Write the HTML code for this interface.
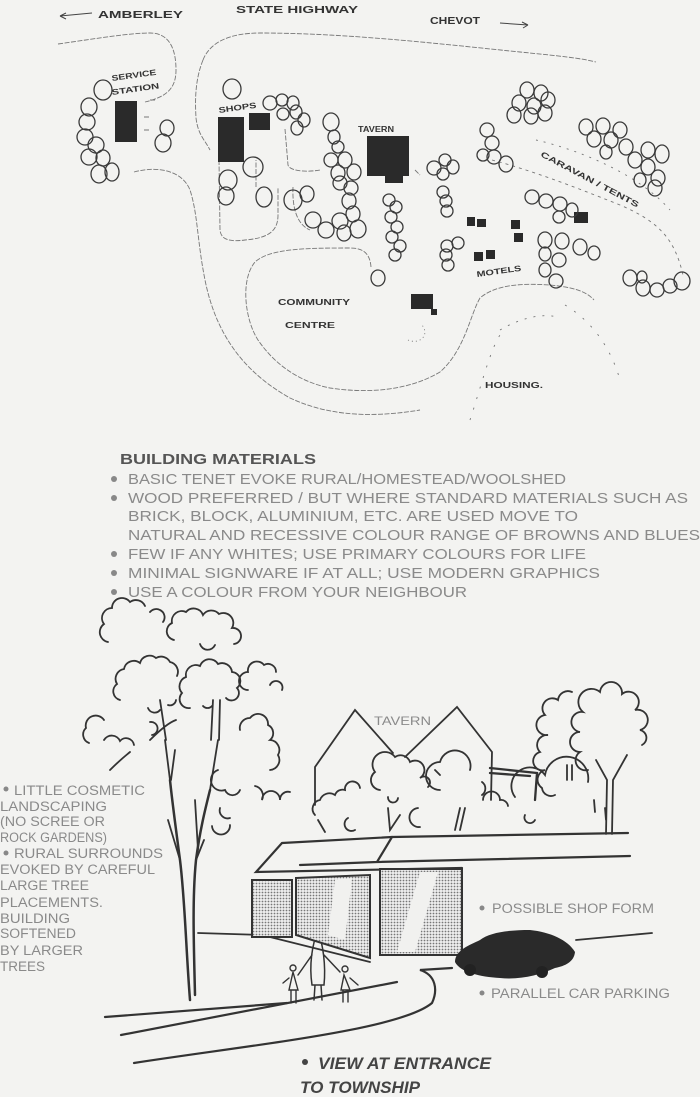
<!DOCTYPE html>
<html><head><meta charset="utf-8"><style>
html,body{margin:0;padding:0;background:#f3f3f1;}
svg{display:block}
.hw{font-family:"Liberation Sans",sans-serif;fill:#333;font-weight:bold;}
.tx{font-family:"Liberation Sans",sans-serif;fill:#8a8a8a;}
</style></head><body>
<svg width="700" height="1097" viewBox="0 0 700 1097" xmlns="http://www.w3.org/2000/svg">
<rect width="700" height="1097" fill="#f3f3f1"/>
<!-- MAP -->
<g class="hw" font-size="10">
<text x="98" y="18" textLength="85" lengthAdjust="spacingAndGlyphs">AMBERLEY</text>
<text x="236" y="13" textLength="122" lengthAdjust="spacingAndGlyphs">STATE HIGHWAY</text>
<text x="430" y="24" textLength="50" lengthAdjust="spacingAndGlyphs">CHEVOT</text>
<text x="112" y="81" font-size="8" textLength="45" lengthAdjust="spacingAndGlyphs" transform="rotate(-8 112 81)">SERVICE</text>
<text x="112" y="95" font-size="8" textLength="48" lengthAdjust="spacingAndGlyphs" transform="rotate(-8 112 95)">STATION</text>
<text x="219" y="113" font-size="8" textLength="38" lengthAdjust="spacingAndGlyphs" transform="rotate(-8 219 113)">SHOPS</text>
<text x="358" y="132" font-size="8" textLength="36" lengthAdjust="spacingAndGlyphs">TAVERN</text>
<text x="540" y="156" font-size="8" textLength="110" lengthAdjust="spacingAndGlyphs" transform="rotate(28 540 156)">CARAVAN / TENTS</text>
<text x="477" y="277" font-size="8" textLength="45" lengthAdjust="spacingAndGlyphs" transform="rotate(-8 477 277)">MOTELS</text>
<text x="278" y="305" font-size="8" textLength="72" lengthAdjust="spacingAndGlyphs">COMMUNITY</text>
<text x="285" y="328" font-size="8" textLength="50" lengthAdjust="spacingAndGlyphs">CENTRE</text>
<text x="485" y="388" font-size="8" textLength="58" lengthAdjust="spacingAndGlyphs">HOUSING.</text>
</g>
<g stroke="#444" stroke-width="1" fill="none">
<path d="M60,16 L92,13 M60,16 l6,-3 M60,16 l6,3"/>
<path d="M500,23 L528,25 M528,25 l-6,-3 M528,25 l-5,3"/>
</g>
<g stroke="#777" stroke-width="0.9" fill="none" stroke-dasharray="5 1.5">
<path d="M58,44 C100,38 130,33 150,33 C170,33 176,50 176,70 C176,90 165,97 145,102"/>
<path d="M134,172 C160,165 183,172 190,190 C198,215 197,240 205,280 C215,330 240,370 290,398 C320,412 360,420 420,410"/>
<path d="M203,60 C210,42 230,33 260,33 C350,33 450,45 520,52 C560,56 580,58 596,62"/>
<path d="M203,60 C195,80 195,100 196,118 C198,135 205,140 210,150"/>
<path d="M219,160 L220,230 C221,240 230,242 245,240 C270,238 278,230 278,215 L278,188 M256,187 L256,160"/>
<path d="M285,129 L288,165 C290,172 310,172 320,170"/>
<path d="M293,187 C292,210 298,225 310,230"/>
<path d="M371,267 C370,255 365,248 350,248 C310,248 270,248 255,262 C240,280 245,320 258,340 C275,365 300,382 330,388 C370,394 410,390 440,372 C465,350 470,315 480,298 C495,285 520,283 550,285 C570,287 585,290 594,300"/>
<path d="M492,160 C530,170 570,185 620,205 C660,222 675,240 683,275" stroke-dasharray="3 4"/>
<path d="M536,140 C580,150 640,175 670,210" stroke-dasharray="2 6"/>
<path d="M500,330 C520,318 545,312 560,318" stroke-dasharray="2 7"/>
<path d="M470,420 C480,390 490,350 500,335" stroke-dasharray="2 9"/>
<path d="M565,305 C590,320 610,345 620,380" stroke-dasharray="2 9"/>
<path d="M408,340 C420,345 430,335 422,325" stroke-dasharray="1 3"/>
<path d="M415,170 L420,175" />
<path d="M144,117 h6 M144,130 h6 M150,100 h5"/>
</g>
<g fill="#2a2a2a">
<rect x="115" y="101" width="22" height="41"/>
<rect x="218" y="117" width="26" height="45"/>
<rect x="249" y="113" width="21" height="17"/>
<path d="M367,136 L409,136 L409,176 L403,176 L403,183 L385,183 L385,176 L367,176 Z"/>
<rect x="467" y="217" width="8" height="9"/><rect x="477" y="219" width="9" height="8"/>
<rect x="511" y="220" width="9" height="9"/><rect x="514" y="233" width="9" height="9"/>
<rect x="474" y="252" width="9" height="9"/><rect x="486" y="250" width="9" height="9"/>
<rect x="574" y="212" width="14" height="11"/>
<rect x="411" y="294" width="22" height="15"/><rect x="431" y="309" width="6" height="6"/>
</g>
<g stroke="#3a3a3a" stroke-width="1.3" fill="none">
<g id="t">
<ellipse cx="103" cy="90" rx="9" ry="10"/><ellipse cx="89" cy="107" rx="8" ry="9"/><ellipse cx="87" cy="122" rx="8" ry="8"/><ellipse cx="85" cy="137" rx="8" ry="8"/><ellipse cx="96" cy="145" rx="8" ry="8"/><ellipse cx="89" cy="157" rx="8" ry="8"/><ellipse cx="103" cy="158" rx="7" ry="8"/><ellipse cx="99" cy="174" rx="8" ry="9"/><ellipse cx="112" cy="172" rx="7" ry="9"/>
<ellipse cx="167" cy="128" rx="7" ry="8"/><ellipse cx="163" cy="143" rx="8" ry="9"/>
<ellipse cx="232" cy="89" rx="9" ry="10"/>
<ellipse cx="228" cy="180" rx="9" ry="10"/><ellipse cx="253" cy="167" rx="10" ry="10"/><ellipse cx="226" cy="196" rx="8" ry="9"/><ellipse cx="264" cy="197" rx="8" ry="10"/>
<ellipse cx="270" cy="103" rx="7" ry="7"/><ellipse cx="282" cy="100" rx="6" ry="6"/><ellipse cx="293" cy="103" rx="6" ry="7"/><ellipse cx="283" cy="114" rx="6" ry="6"/><ellipse cx="296" cy="112" rx="6" ry="7"/><ellipse cx="304" cy="120" rx="6" ry="7"/><ellipse cx="297" cy="128" rx="6" ry="7"/>
<ellipse cx="293" cy="200" rx="9" ry="10"/><ellipse cx="307" cy="194" rx="7" ry="8"/>
<ellipse cx="331" cy="122" rx="8" ry="9"/><ellipse cx="334" cy="137" rx="6" ry="7"/><ellipse cx="338" cy="147" rx="6" ry="6"/><ellipse cx="331" cy="160" rx="7" ry="7"/><ellipse cx="345" cy="160" rx="7" ry="8"/><ellipse cx="338" cy="173" rx="7" ry="8"/><ellipse cx="354" cy="172" rx="7" ry="8"/><ellipse cx="340" cy="183" rx="7" ry="7"/><ellipse cx="351" cy="188" rx="7" ry="7"/><ellipse cx="349" cy="201" rx="7" ry="8"/><ellipse cx="353" cy="214" rx="7" ry="8"/><ellipse cx="340" cy="221" rx="8" ry="8"/><ellipse cx="313" cy="220" rx="8" ry="8"/><ellipse cx="326" cy="230" rx="8" ry="8"/><ellipse cx="358" cy="229" rx="8" ry="9"/><ellipse cx="344" cy="233" rx="7" ry="8"/>
<ellipse cx="389" cy="200" rx="6" ry="6"/><ellipse cx="396" cy="207" rx="6" ry="6"/><ellipse cx="391" cy="217" rx="6" ry="6"/><ellipse cx="397" cy="227" rx="6" ry="6"/><ellipse cx="392" cy="237" rx="6" ry="6"/><ellipse cx="400" cy="246" rx="6" ry="6"/><ellipse cx="395" cy="255" rx="6" ry="6"/>
<ellipse cx="378" cy="278" rx="7" ry="8"/>
<ellipse cx="434" cy="168" rx="7" ry="7"/><ellipse cx="445" cy="160" rx="6" ry="6"/><ellipse cx="453" cy="167" rx="6" ry="7"/><ellipse cx="443" cy="174" rx="6" ry="6"/>
<ellipse cx="443" cy="192" rx="6" ry="6"/><ellipse cx="446" cy="201" rx="6" ry="6"/><ellipse cx="447" cy="211" rx="6" ry="6"/>
<ellipse cx="447" cy="246" rx="6" ry="6"/><ellipse cx="446" cy="255" rx="6" ry="6"/><ellipse cx="448" cy="265" rx="6" ry="6"/><ellipse cx="458" cy="243" rx="6" ry="6"/>
<ellipse cx="487" cy="130" rx="7" ry="7"/><ellipse cx="492" cy="143" rx="7" ry="7"/><ellipse cx="483" cy="155" rx="6" ry="6"/><ellipse cx="494" cy="157" rx="7" ry="7"/><ellipse cx="506" cy="164" rx="7" ry="8"/>
<ellipse cx="527" cy="90" rx="7" ry="8"/><ellipse cx="541" cy="93" rx="7" ry="8"/><ellipse cx="519" cy="103" rx="7" ry="8"/><ellipse cx="534" cy="106" rx="7" ry="8"/><ellipse cx="548" cy="100" rx="7" ry="8"/><ellipse cx="514" cy="115" rx="7" ry="8"/><ellipse cx="531" cy="116" rx="7" ry="8"/><ellipse cx="545" cy="113" rx="7" ry="8"/>
<ellipse cx="586" cy="127" rx="7" ry="8"/><ellipse cx="603" cy="126" rx="7" ry="8"/><ellipse cx="620" cy="130" rx="7" ry="8"/><ellipse cx="594" cy="139" rx="7" ry="8"/><ellipse cx="611" cy="140" rx="7" ry="8"/><ellipse cx="626" cy="147" rx="7" ry="8"/><ellipse cx="648" cy="150" rx="7" ry="8"/><ellipse cx="662" cy="154" rx="7" ry="9"/><ellipse cx="635" cy="160" rx="7" ry="8"/><ellipse cx="648" cy="167" rx="7" ry="8"/><ellipse cx="658" cy="178" rx="7" ry="8"/><ellipse cx="640" cy="180" rx="6" ry="7"/><ellipse cx="655" cy="188" rx="7" ry="8"/><ellipse cx="606" cy="152" rx="6" ry="7"/>
<ellipse cx="532" cy="197" rx="7" ry="7"/><ellipse cx="546" cy="201" rx="7" ry="7"/><ellipse cx="560" cy="204" rx="7" ry="7"/><ellipse cx="559" cy="217" rx="6" ry="6"/><ellipse cx="572" cy="210" rx="6" ry="7"/>
<ellipse cx="545" cy="240" rx="7" ry="8"/><ellipse cx="562" cy="241" rx="7" ry="8"/><ellipse cx="580" cy="247" rx="7" ry="8"/><ellipse cx="594" cy="253" rx="6" ry="7"/><ellipse cx="545" cy="254" rx="6" ry="7"/><ellipse cx="559" cy="260" rx="7" ry="7"/><ellipse cx="545" cy="270" rx="6" ry="7"/><ellipse cx="556" cy="281" rx="7" ry="7"/>
<ellipse cx="630" cy="278" rx="7" ry="8"/><ellipse cx="643" cy="288" rx="7" ry="8"/><ellipse cx="657" cy="290" rx="7" ry="7"/><ellipse cx="670" cy="286" rx="7" ry="7"/><ellipse cx="682" cy="281" rx="8" ry="9"/><ellipse cx="642" cy="277" rx="5" ry="6"/>
</g>
</g>

<!-- BUILDING MATERIALS -->
<text x="120" y="464" font-family="Liberation Sans,sans-serif" font-weight="bold" font-size="15" fill="#555" textLength="196" lengthAdjust="spacingAndGlyphs">BUILDING MATERIALS</text>
<g fill="#888">
<circle cx="114" cy="479" r="3"/><circle cx="114" cy="498" r="3"/><circle cx="114" cy="554" r="3"/><circle cx="114" cy="573" r="3"/><circle cx="114" cy="592" r="3"/>
</g>
<g class="tx" font-size="14.5">
<text x="128" y="484" textLength="438" lengthAdjust="spacingAndGlyphs">BASIC TENET EVOKE RURAL/HOMESTEAD/WOOLSHED</text>
<text x="128" y="503" textLength="560" lengthAdjust="spacingAndGlyphs">WOOD PREFERRED / BUT WHERE STANDARD MATERIALS SUCH AS</text>
<text x="128" y="521" textLength="450" lengthAdjust="spacingAndGlyphs">BRICK, BLOCK, ALUMINIUM, ETC. ARE USED MOVE TO</text>
<text x="128" y="540" textLength="572" lengthAdjust="spacingAndGlyphs">NATURAL AND RECESSIVE COLOUR RANGE OF BROWNS AND BLUES</text>
<text x="128" y="559" textLength="458" lengthAdjust="spacingAndGlyphs">FEW IF ANY WHITES; USE PRIMARY COLOURS FOR LIFE</text>
<text x="128" y="578" textLength="472" lengthAdjust="spacingAndGlyphs">MINIMAL SIGNWARE IF AT ALL; USE MODERN GRAPHICS</text>
<text x="128" y="597" textLength="339" lengthAdjust="spacingAndGlyphs">USE A COLOUR FROM YOUR NEIGHBOUR</text>
</g>

<!-- SKETCH -->
<g stroke="#333" stroke-width="1.8" fill="none" stroke-linecap="round">
<!-- canopies -->
<path d="M108,642 A10,10 0 0 1 104,624 A10,10 0 0 1 112,608 A10,10 0 0 1 130,602 A10,10 0 0 1 145,606 M150,612 A8,8 0 0 1 160,610 A8,8 0 0 1 163,622"/>
<path d="M174,640 A9,9 0 0 1 172,623 A10,10 0 0 1 186,612 A10,10 0 0 1 203,615 A10,10 0 0 1 219,614 A10,10 0 0 1 232,628 A8,8 0 0 1 234,644 M215,645 A8,8 0 0 1 200,644"/>
<path d="M120,700 A9,9 0 0 1 117,684 A10,10 0 0 1 124,669 A10,10 0 0 1 140,663 A10,10 0 0 1 156,658 A10,10 0 0 1 170,662 A10,10 0 0 1 177,676 M160,710 A7,7 0 0 1 148,708 M176,700 A6,6 0 0 1 168,705"/>
<path d="M190,708 A9,9 0 0 1 182,693 A10,10 0 0 1 186,677 A10,10 0 0 1 200,666 A10,10 0 0 1 218,664 A10,10 0 0 1 232,672 A9,9 0 0 1 237,688 A7,7 0 0 1 226,698 M212,706 A6,6 0 0 1 203,706"/>
<path d="M248,690 A9,9 0 0 1 248,672 A9,9 0 0 1 264,665 A8,8 0 0 1 276,672 M270,685 A6,6 0 0 1 282,690"/>
<path d="M89,743 A9,9 0 0 1 86,728 A10,10 0 0 1 104,720 M104,740 A9,9 0 0 1 120,741 A8,8 0 0 1 134,745 M150,722 A6,6 0 0 1 152,735"/>
<path d="M240,730 A10,10 0 0 1 250,718 A10,10 0 0 1 268,725 A9,9 0 0 1 270,740 A10,10 0 0 1 278,755 A10,10 0 0 1 270,770 M255,786 A10,10 0 0 1 262,800 A8,8 0 0 1 280,800 A8,8 0 0 1 290,792"/>
<path d="M218,770 A10,10 0 0 0 225,790 A8,8 0 0 0 240,790 M220,808 A8,8 0 0 0 230,818 M212,826 A8,8 0 0 0 230,825"/>
<!-- trunks and branches -->
<path d="M190,1000 C186,950 185,900 180,860 C176,830 172,800 170,780" stroke-width="2.5"/>
<path d="M195,995 C194,950 192,900 196,860 C200,830 205,810 210,790" stroke-width="2.5"/>
<path d="M180,860 L168,820 M196,860 L204,840 M170,780 L165,740 M210,790 L218,740 M219,740 L220,700 M211,740 L213,700 M166,740 L160,700 M150,740 C160,730 170,722 176,720 M110,770 C120,760 125,756 130,752"/>
<path d="M171,780 L175,750 M195,800 L198,850"/>
<!-- right trees -->
<path d="M555,795 A9,9 0 0 1 542,788 A10,10 0 0 1 545,770 A9,9 0 0 1 540,752 A10,10 0 0 1 548,735 A10,10 0 0 1 545,715 A10,10 0 0 1 558,700 A10,10 0 0 1 572,692"/>
<path d="M588,770 A10,10 0 0 1 580,752 A10,10 0 0 1 580,732 A10,10 0 0 1 583,712 A10,10 0 0 1 600,692 A10,10 0 0 1 622,694 A10,10 0 0 1 635,710 A10,10 0 0 1 640,730 A8,8 0 0 1 642,745"/>
<path d="M567,780 L567,765 M572,780 L572,765 M606,834 L607,780 L596,760 M612,834 L613,780 L627,755 M605,808 L606,820"/>
<!-- tavern -->
<path d="M315,805 L315,767 L355,710 L393,753"/>
<path d="M405,757 L457,707 L492,752 L491,800"/>
<path d="M490,768 L537,773 L535,800 M490,773 L530,776" stroke-width="2.3"/>
<!-- bushes -->
<path d="M315,815 A9,9 0 0 1 320,800 A10,10 0 0 1 335,795 A8,8 0 0 1 345,790 A7,7 0 0 1 360,788"/>
<path d="M380,790 A10,10 0 0 1 375,772 A12,12 0 0 1 395,757 A10,10 0 0 1 410,762 A9,9 0 0 1 420,778 A6,6 0 0 1 428,787 M388,797 A5,5 0 0 0 398,798"/>
<path d="M440,790 A9,9 0 0 1 440,762 A12,12 0 0 1 470,770 M482,782 A8,8 0 0 1 482,795 M435,770 L440,775"/>
<path d="M483,800 A8,8 0 0 1 500,800 A7,7 0 0 1 508,806 M515,797 A10,10 0 0 1 545,775 A10,10 0 0 1 588,782"/>
<path d="M348,818 A5,5 0 0 0 355,830 M388,808 L390,830 L400,815 M418,808 A8,8 0 0 0 420,827 M460,808 L455,830 M465,808 L460,830 M525,815 A5,5 0 0 0 535,820 M594,800 L595,812 M318,820 L325,832"/>
<!-- shop -->
<path d="M282,843 L392,837 L628,833 M300,865 L377,862 L630,856 M392,837 L377,862 M282,843 L256,872 L462,868" stroke-width="2.2"/>
<path d="M198,933 L262,935 L370,962 M253,880 L253,935"/>
<path d="M576,940 L652,933"/>
<!-- path -->
<path d="M105,1017 L287,1003" stroke-width="2.2"/>
<path d="M121,1035 L397,982" stroke-width="2.2"/>
<path d="M134,1063 C250,1045 400,1030 432,1003 C438,990 436,975 420,970 L452,968" stroke-width="2.2"/>
<!-- family -->
<path d="M318,930 C312,945 309,965 312,985 L324,985 C326,965 323,945 318,930 M315,985 L314,1000 M321,985 L322,1000 M312,955 L298,975 M324,955 L340,972" stroke-width="1.5"/>
<circle cx="318" cy="927" r="4" stroke-width="1.5"/>
<path d="M293,972 L289,990 L298,990 Z M291,990 L291,1003 M296,990 L296,1003 M289,978 L283,983" stroke-width="1.4"/>
<circle cx="293" cy="968" r="3" stroke-width="1.4"/>
<path d="M344,975 L341,990 L350,990 Z M343,990 L343,1002 M348,990 L348,1002 M350,978 L358,985" stroke-width="1.4"/>
<circle cx="345" cy="969" r="3" stroke-width="1.4"/>
</g>
<!-- windows -->
<defs><pattern id="dots" width="3" height="3" patternUnits="userSpaceOnUse"><rect width="3" height="3" fill="#eee"/><circle cx="1.5" cy="1.5" r="0.9" fill="#777"/></pattern></defs>
<g stroke="#333" stroke-width="2" fill="url(#dots)">
<rect x="252" y="880" width="40" height="57"/>
<path d="M296,878 L370,875 L370,958 L296,935 Z"/>
<rect x="380" y="869" width="82" height="86"/>
</g>
<g fill="#f1f1ef">
<path d="M335,880 L352,878 L345,940 L328,935 Z"/>
<path d="M420,872 L438,872 L415,952 L397,952 Z"/>
</g>
<!-- car -->
<path d="M455,962 C455,950 470,945 480,940 C490,932 510,930 530,930 C550,932 568,940 575,952 C574,962 565,966 555,968 C540,975 520,980 500,978 C480,977 460,972 455,962 Z" fill="#2a2a2a"/>
<circle cx="470" cy="970" r="6" fill="#222"/><circle cx="542" cy="972" r="6" fill="#222"/>
<!-- left text -->
<g fill="#888"><circle cx="6" cy="789" r="2.5"/><circle cx="6" cy="853" r="2.5"/><circle cx="482" cy="908" r="2.5"/><circle cx="482" cy="993" r="2.5"/></g>
<g class="tx" font-size="13.5">
<text x="14" y="795" textLength="131" lengthAdjust="spacingAndGlyphs">LITTLE COSMETIC</text>
<text x="0" y="811" textLength="107" lengthAdjust="spacingAndGlyphs">LANDSCAPING</text>
<text x="0" y="826" textLength="105" lengthAdjust="spacingAndGlyphs">(NO SCREE OR</text>
<text x="0" y="842" textLength="107" lengthAdjust="spacingAndGlyphs">ROCK GARDENS)</text>
<text x="14" y="858" textLength="149" lengthAdjust="spacingAndGlyphs">RURAL SURROUNDS</text>
<text x="0" y="874" textLength="155" lengthAdjust="spacingAndGlyphs">EVOKED BY CAREFUL</text>
<text x="0" y="890" textLength="89" lengthAdjust="spacingAndGlyphs">LARGE TREE</text>
<text x="0" y="907" textLength="103" lengthAdjust="spacingAndGlyphs">PLACEMENTS.</text>
<text x="0" y="923" textLength="70" lengthAdjust="spacingAndGlyphs">BUILDING</text>
<text x="0" y="938" textLength="76" lengthAdjust="spacingAndGlyphs">SOFTENED</text>
<text x="0" y="955" textLength="83" lengthAdjust="spacingAndGlyphs">BY LARGER</text>
<text x="0" y="971" textLength="45" lengthAdjust="spacingAndGlyphs">TREES</text>
<text x="374" y="725" font-size="12" textLength="57" lengthAdjust="spacingAndGlyphs">TAVERN</text>
<text x="492" y="913" textLength="162" lengthAdjust="spacingAndGlyphs">POSSIBLE SHOP FORM</text>
<text x="491" y="998" textLength="179" lengthAdjust="spacingAndGlyphs">PARALLEL CAR PARKING</text>
</g>
<circle cx="305" cy="1062" r="3" fill="#444"/>
<g font-family="Liberation Sans,sans-serif" font-weight="bold" font-style="italic" font-size="17" fill="#444">
<text x="318" y="1069" textLength="173" lengthAdjust="spacingAndGlyphs">VIEW AT ENTRANCE</text>
<text x="300" y="1093" textLength="120" lengthAdjust="spacingAndGlyphs">TO TOWNSHIP</text>
</g>
</svg>
</body></html>
